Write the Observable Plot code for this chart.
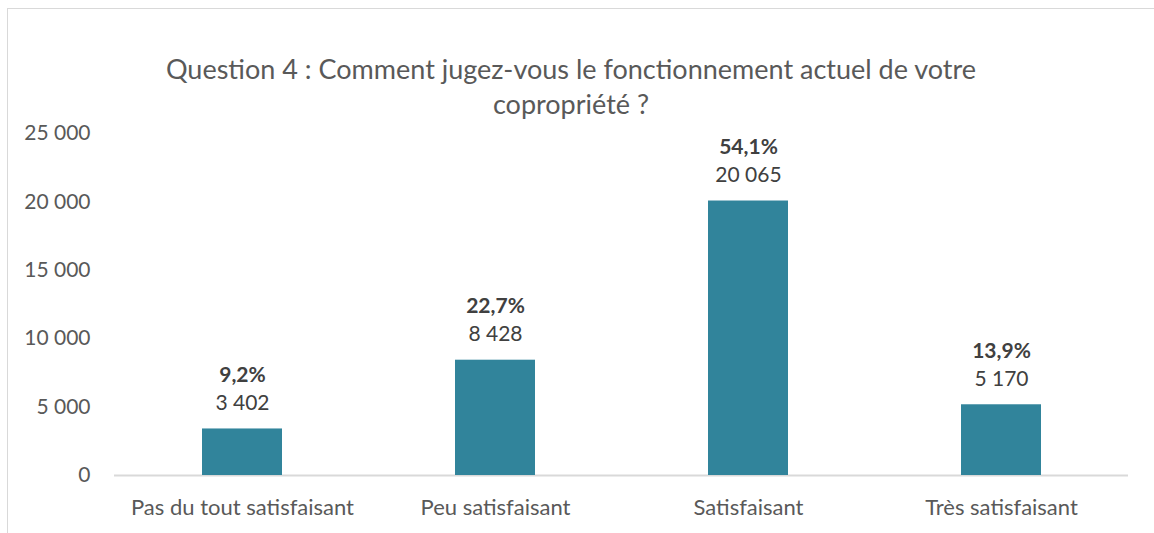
<!DOCTYPE html>
<html>
<head>
<meta charset="utf-8">
<script src="https://cdn.jsdelivr.net/npm/d3@7"></script>
<script src="https://cdn.jsdelivr.net/npm/@observablehq/plot@0.6"></script>
<style>
  html, body { margin: 0; padding: 0; background: #fff; }
  #wrap { position: relative; width: 1154px; height: 533px; overflow: hidden; font-family: Lato, "Open Sans", sans-serif; }
  #frame { position: absolute; left: 7px; top: 8px; width: 1200px; height: 600px; border-left: 1px solid #d9d9d9; border-top: 1px solid #d9d9d9; }
  #title { position: absolute; left: 71px; width: 1000px; top: 51px; text-align: center; font-size: 27px; line-height: 35px; color: #595959; }
  #chart { position: absolute; left: 0; top: 0; }
</style>
</head>
<body>
<div id="wrap">
  <div id="frame"></div>
  <div id="chart"></div>
  <div id="title">Question 4 : Comment jugez-vous le fonctionnement actuel de votre<br>copropriété ?</div>
</div>
<script>
const categories = ["Pas du tout satisfaisant", "Peu satisfaisant", "Satisfaisant", "Très satisfaisant"];
const counts = [3402, 8428, 20065, 5170];
const percents = ["9,2%", "22,7%", "54,1%", "13,9%"];
const yTicks = [0, 5000, 10000, 15000, 20000, 25000];

const data = categories.map((c, i) => ({cat: c, n: counts[i], pct: percents[i]}));
const fmt = v => d3.format(",")(v).replace(/,/g, " ");

const chart = Plot.plot({
  width: 1154,
  height: 533,
  marginLeft: 114,
  marginRight: 26,
  marginTop: 133,
  marginBottom: 58,
  style: {fontFamily: "Lato, 'Open Sans', sans-serif", background: "transparent"},
  x: {domain: categories, paddingInner: 0.684, paddingOuter: 0.342, label: null},
  y: {domain: [0, 25000], label: null},
  marks: [
    Plot.axisY({ticks: yTicks, tickFormat: fmt, tickSize: 0, tickPadding: 24, fontSize: 21, color: "#595959", label: null}),
    Plot.axisX({tickSize: 0, tickPadding: 24, fontSize: 22, color: "#595959", label: null}),
    Plot.ruleY([0], {stroke: "#d9d9d9", strokeWidth: 2}),
    Plot.barY(data, {x: "cat", y: "n", fill: "#31849b"}),
    Plot.text(data, {x: "cat", y: "n", text: d => fmt(d.n), dy: -26, fontSize: 21, fill: "#404040"}),
    Plot.text(data, {x: "cat", y: "n", text: "pct", dy: -54, fontSize: 21, fontWeight: "bold", fill: "#404040"})
  ]
});
document.getElementById("chart").appendChild(chart);
</script>
</body>
</html>
